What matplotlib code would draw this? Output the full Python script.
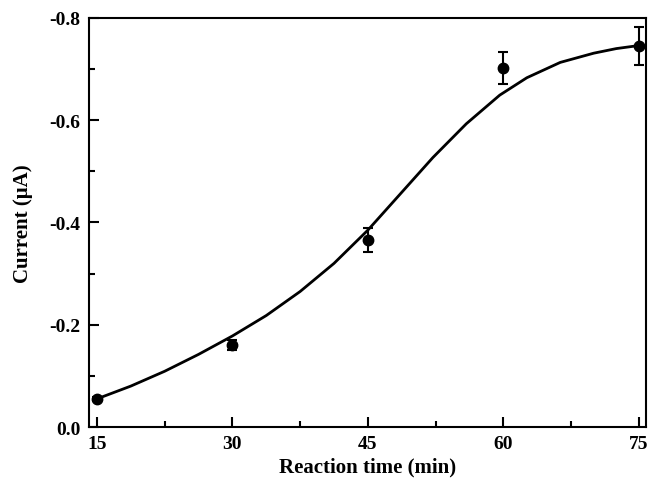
import matplotlib
matplotlib.use('Agg')
import matplotlib.pyplot as plt
from matplotlib.ticker import MultipleLocator, FormatStrFormatter

# measured points
time = [15, 30, 45, 60, 75]
current = [-0.055, -0.160, -0.366, -0.702, -0.745]
err = [0.004, 0.010, 0.024, 0.031, 0.037]

# fitted curve
fit_t = [15, 18.75, 22.5, 26.25, 30, 33.75, 37.5, 41.25, 45, 48.5, 52.2,
         55.9, 59.6, 62.6, 66.3, 70, 72.5, 75]
fit_i = [-0.055, -0.080, -0.109, -0.142, -0.178, -0.218, -0.265, -0.320,
         -0.385, -0.454, -0.527, -0.593, -0.649, -0.683, -0.713, -0.731,
         -0.740, -0.746]

plt.rcParams['font.family'] = 'Liberation Serif'
plt.rcParams['font.weight'] = 'bold'

fig = plt.figure(figsize=(6.48, 4.85), dpi=100)
ax = fig.add_axes([0.137, 0.1175, 0.86, 0.8435])

ax.plot(fit_t, fit_i, color='black', lw=2, solid_joinstyle='round')
ax.errorbar(time, current, yerr=err, fmt='o', color='black', ms=7.5,
            capsize=3.6, elinewidth=1.5, capthick=1.5)

ax.set_xlim(14.1, 75.8)
ax.set_ylim(0, -0.8)
ax.xaxis.set_major_locator(MultipleLocator(15))
ax.xaxis.set_minor_locator(MultipleLocator(7.5))
ax.yaxis.set_major_locator(MultipleLocator(0.2))
ax.yaxis.set_minor_locator(MultipleLocator(0.1))
ax.yaxis.set_major_formatter(FormatStrFormatter('%.1f'))

ax.tick_params(which='major', direction='in', length=7, width=1.5, labelsize=14)
ax.tick_params(axis='x', which='major', pad=6)
ax.tick_params(axis='y', which='major', pad=6)
ax.tick_params(which='minor', direction='in', length=4, width=1.5)
for s in ax.spines.values():
    s.set_linewidth(1.5)

ax.set_xlabel('Reaction time (min)', fontsize=15, fontweight='bold', labelpad=3)
ax.set_ylabel('Current (\u03bcA)', fontsize=15, fontweight='bold', labelpad=12)

fig.savefig('out.png')
